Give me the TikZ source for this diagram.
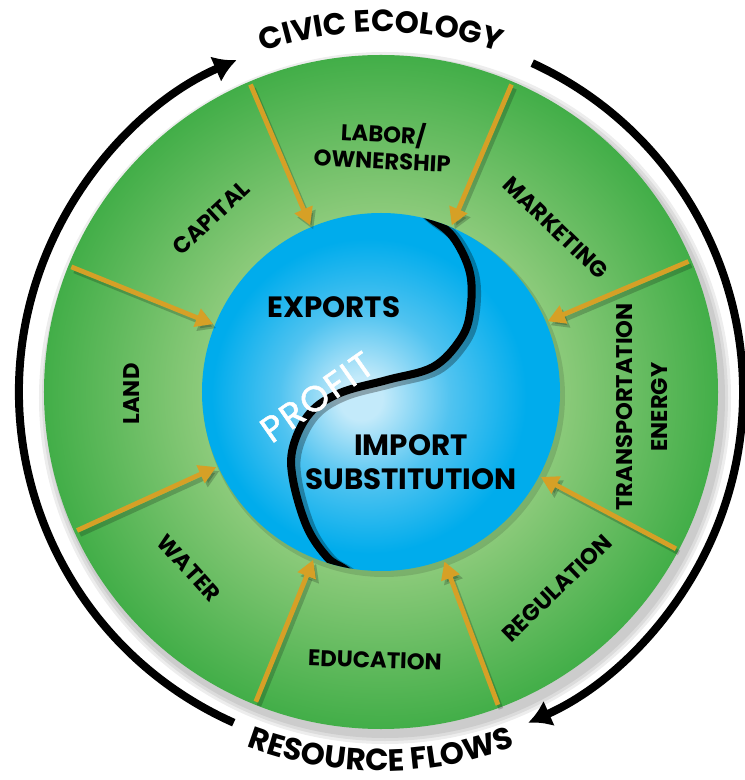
\documentclass[tikz,border=0pt]{standalone}
\usepackage{fontspec}
\setmainfont{Poppins}
\usetikzlibrary{calc,arrows.meta,decorations.text}

\definecolor{greenout}{RGB}{66,174,72}
\definecolor{greenin}{RGB}{142,203,124}
\definecolor{bluein}{RGB}{195,234,250}
\definecolor{bluemid}{RGB}{80,195,240}
\definecolor{blueout}{RGB}{0,172,236}
\definecolor{feedcol}{RGB}{214,160,38}

\pgfdeclareradialshading{ringshade}{\pgfpoint{0bp}{0bp}}{color(0bp)=(greenin); color(13bp)=(greenin); color(25bp)=(greenout); color(50bp)=(greenout)}
\pgfdeclareradialshading{coreshade}{\pgfpoint{-3bp}{-1bp}}{color(0bp)=(bluein); color(3bp)=(bluein); color(12bp)=(bluemid); color(22bp)=(blueout); color(50bp)=(blueout)}

\newcommand{\labelfont}{\fontsize{17}{20}\selectfont\bfseries}
\newcommand{\corefont}{\fontsize{22}{25.5}\selectfont\bfseries}
\newcommand{\profitfont}{\fontsize{27}{30}\selectfont\addfontfeature{LetterSpace=6,FakeBold=1.4}}
\newcommand{\topfont}{\fontsize{23}{27}\selectfont\bfseries}
\newcommand{\botfont}{\fontsize{23}{27}\selectfont\bfseries}

\newcommand{\drawfeeds}[1] {
    \foreach \ang [count=\i] in #1 {
      \coordinate (s\i) at (\ang:334);
      \coordinate (t\i) at (\ang:181);
      \draw[feedshade] ($(s\i)+(3,-4)$) -- ($(t\i)+(3,-4)$); % soft shadow
      \draw[feed] (s\i) -- (t\i);
    }
}

\begin{document}
\begin{tikzpicture}[x=0.75pt, y=0.75pt,
    ringline/.style={line width=6pt, -{Latex[length=17pt,width=21pt]}},
    feed/.style={feedcol, line width=3.6pt, -{Triangle[length=13pt,width=14pt]}},
    feedshade/.style={black, opacity=0.2, line width=3.6pt, -{Triangle[length=13pt,width=14pt]}},
    seg/.style={font=\labelfont, align=center, inner sep=0pt},
    core/.style={font=\corefont, align=center, inner sep=0pt}]
    \fill[white] (-381,-388) rectangle (363,392);
    \useasboundingbox (-381,-388) rectangle (363,392);

    % shadow and green ring
    \foreach \r in {346,343,340}
      \fill[black, opacity=0.07] (4,-6) circle[radius=\r];
    \shade[shading=ringshade] (0,0) circle[radius=337];

    % core
    \fill[black, opacity=0.12] (3,-4) circle[radius=181];
    \shade[shading=coreshade] (0,0) circle[radius=179];
    \begin{scope}
      \clip (0,0) circle[radius=179];
      \draw[black, opacity=0.3, line width=8pt, xshift=3pt, yshift=-2pt]
        plot[smooth, tension=0.6] coordinates {(36,185) (48,175) (72,155) (89,119) (89,79) (79,52) (52,25) (6,12) (-41,-1) (-71,-21) (-88,-55) (-88,-88) (-74,-135) (-54,-165) (-38,-176) (-28,-183)};
      \draw[line width=6pt]
        plot[smooth, tension=0.6] coordinates {(36,185) (48,175) (72,155) (89,119) (89,79) (79,52) (52,25) (6,12) (-41,-1) (-71,-21) (-88,-55) (-88,-88) (-74,-135) (-54,-165) (-38,-176) (-28,-183)};
    \end{scope}

    \node[core] (exports) at (-47,85) {EXPORTS};
    \node[core] (import) at (30,-70) {IMPORT\\SUBSTITUTION};
    \node[inner sep=0pt, font=\profitfont, white, rotate=35] (profit) at (-64,-5) {PROFIT};

    \drawfeeds{{113,67,23,-28,-69.5,-112,-155.5,158}}

    % resources
    \node[seg, rotate=-3] (labor) at (2,247) {LABOR/\\OWNERSHIP};
    \node[seg, rotate=43] (capital) at (-170,174) {CAPITAL};
    \node[seg, rotate=-44] (marketing) at (175,164) {MARKETING};
    \node[seg, rotate=90] (land) at (-249,-2) {LAND};
    \node[seg, rotate=90] (transport) at (261,-15) {TRANSPORTATION\\[6pt]ENERGY};
    \node[seg, rotate=-48] (water) at (-192,-176) {WATER};
    \node[seg, rotate=-2] (education) at (-6,-268) {EDUCATION};
    \node[seg, rotate=44] (regulation) at (176,-196) {REGULATION};

    % outer cycle
    \draw[ringline] (246:362) arc[start angle=246, end angle=113.5, radius=362];
    \draw[ringline] (65.3:362) arc[start angle=65.3, end angle=-66, radius=362];
    \path[decorate, decoration={text along path, text align=center,
        text={|\topfont|CIVIC ECOLOGY}}]
      (135:360) arc[start angle=135, end angle=45, radius=360];
    \path[decorate, decoration={text along path, text align=center,
        text={|\botfont|RESOURCE FLOWS}}]
      (225:379) arc[start angle=225, end angle=315, radius=379];
\end{tikzpicture}
\end{document}
